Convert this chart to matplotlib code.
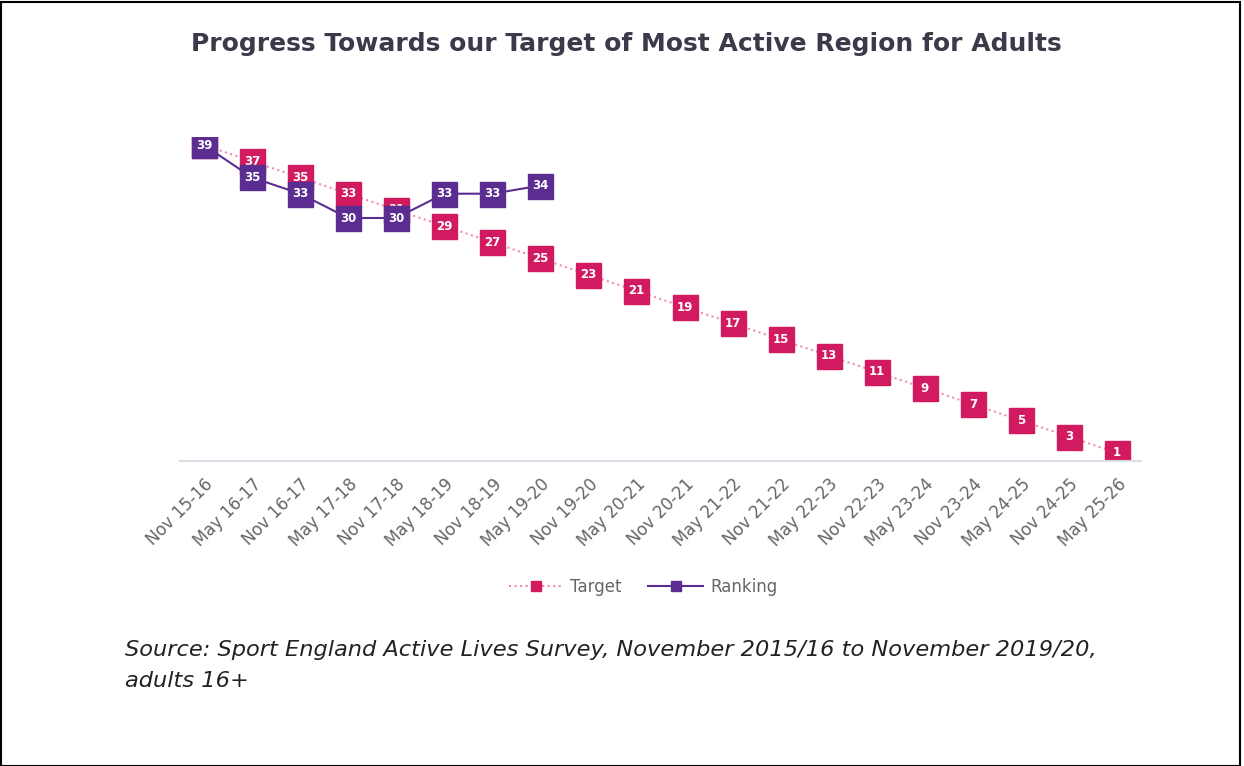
import matplotlib.pyplot as plt
from matplotlib.patches import Rectangle

# Data
periods = ['Nov 15-16', 'May 16-17', 'Nov 16-17', 'May 17-18', 'Nov 17-18',
           'May 18-19', 'Nov 18-19', 'May 19-20', 'Nov 19-20', 'May 20-21',
           'Nov 20-21', 'May 21-22', 'Nov 21-22', 'May 22-23', 'Nov 22-23',
           'May 23-24', 'Nov 23-24', 'May 24-25', 'Nov 24-25', 'May 25-26']
target = [39, 37, 35, 33, 31, 29, 27, 25, 23, 21, 19, 17, 15, 13, 11, 9, 7, 5, 3, 1]
ranking = [39, 35, 33, 30, 30, 33, 33, 34]

pink = '#D21A60'
purple = '#5C2D91'

fig = plt.figure(figsize=(12.44, 7.66), dpi=100)
ax = fig.add_axes([180 / 1244, 1 - 461 / 766, 961 / 1244, 324 / 766])

x_t = list(range(len(target)))
x_r = list(range(len(ranking)))

ax.plot(x_t, target, linestyle=':', color='#F08CAE', linewidth=1.5, zorder=1)
ax.plot(x_t, target, linestyle='none', marker='s', markersize=18,
        color=pink, zorder=2)
ax.plot(x_r, ranking, linestyle='-', color=purple, linewidth=1.5, zorder=3)
ax.plot(x_r, ranking, linestyle='none', marker='s', markersize=18,
        color=purple, zorder=4)

for i, v in enumerate(target):
    ax.text(i, v, str(v), ha='center', va='center', color='white',
            fontsize=8.5, fontweight='bold', zorder=2.5)
for i, v in enumerate(ranking):
    ax.text(i, v, str(v), ha='center', va='center', color='white',
            fontsize=8.5, fontweight='bold', zorder=4.5)

ax.set_xlim(-0.5, len(periods) - 0.5)
ax.set_ylim(0, 40)
ax.set_xticks(x_t)
ax.set_xticklabels(periods, rotation=45, ha='right', rotation_mode='anchor',
                   fontsize=12, color='#666666')
ax.tick_params(axis='x', length=0, pad=10)
ax.set_yticks([])
for s in ['top', 'right', 'left']:
    ax.spines[s].set_visible(False)
ax.spines['bottom'].set_color('#d8dde6')
ax.spines['bottom'].set_linewidth(1.5)

# legend
h1, = ax.plot([], [], linestyle=':', color='#F08CAE', marker='s',
              markersize=7, markerfacecolor=pink, markeredgecolor=pink)
h2, = ax.plot([], [], linestyle='-', color=purple, marker='s',
              markersize=7)
fig.legend([h1, h2], ['Target', 'Ranking'], loc='center',
           bbox_to_anchor=(643 / 1244, 1 - 587 / 766), ncol=2, frameon=False,
           fontsize=12, labelcolor='#666666', handlelength=3.3,
           columnspacing=1.6, handletextpad=0.4)

fig.text(626 / 1244, 1 - 44 / 766,
         'Progress Towards our Target of Most Active Region for Adults',
         ha='center', va='center', fontsize=18, fontweight='bold',
         color='#3a3a4a')

fig.text(125 / 1244, 1 - 650 / 766,
         'Source: Sport England Active Lives Survey, November 2015/16 to November 2019/20,',
         ha='left', va='center', fontsize=16.2, style='italic',
         color='#222222')
fig.text(125 / 1244, 1 - 681 / 766, 'adults 16+',
         ha='left', va='center', fontsize=16.2, style='italic',
         color='#222222')

fig.patches.append(Rectangle((0.001, 0.0), 0.996, 0.998, transform=fig.transFigure,
                             fill=False, edgecolor='black', linewidth=1.5))

fig.savefig('out.png', dpi=100)
